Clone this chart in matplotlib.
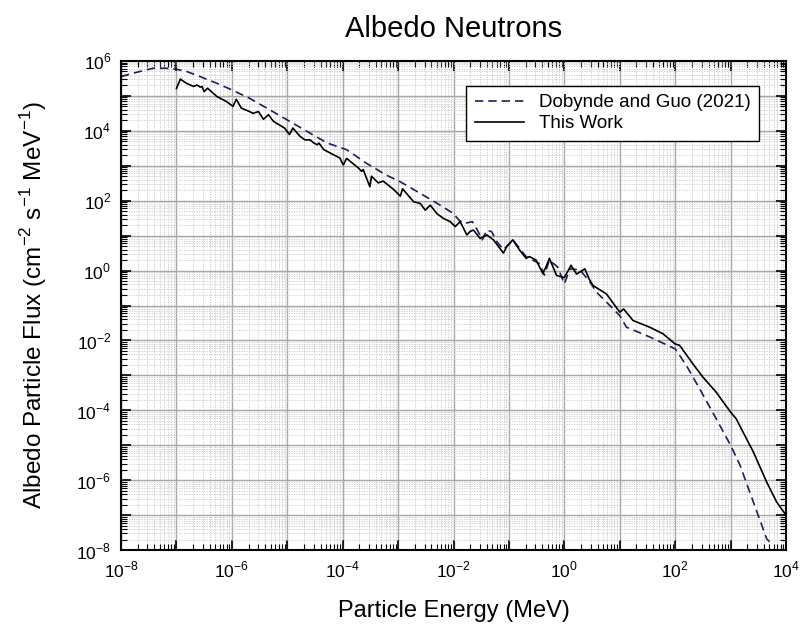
import numpy as np
import matplotlib.pyplot as plt
from matplotlib.ticker import LogLocator, FuncFormatter, NullFormatter

plt.rcParams["font.family"] = ["Liberation Sans", "DejaVu Sans"]
plt.rcParams["mathtext.fontset"] = "custom"
plt.rcParams["mathtext.rm"] = "Liberation Sans"

# log10(E / MeV) and log10(flux)
dob_logE = [-8.0, -7.78, -7.42, -7.18, -7.0, -6.82, -6.57, -6.27, -6.0, -5.68,
            -5.37, -5.0, -4.64, -4.28, -3.93, -3.57, -3.21, -2.96, -2.6, -2.24,
            -2.0, -1.9, -1.8, -1.66, -1.57, -1.48, -1.4, -1.31, -1.22, -1.1,
            -1.01, -0.93, -0.69, -0.45, -0.36, -0.27, -0.12, 0.0, 0.1, 0.28,
            0.45, 0.58, 0.76, 1.0, 1.12, 1.54, 2.0, 2.2, 2.44, 2.74, 3.0, 3.17,
            3.41, 3.65, 3.7]
dob_logF = [5.55, 5.65, 5.79, 5.79, 5.76, 5.7, 5.55, 5.36, 5.17, 4.93,
            4.65, 4.31, 3.98, 3.65, 3.46, 3.07, 2.73, 2.54, 2.21, 1.87,
            1.63, 1.44, 1.35, 1.4, 1.16, 0.88, 1.16, 1.11, 0.83, 0.6,
            0.73, 0.88, 0.4, 0.2, -0.13, 0.3, 0.1, -0.38, 0.05, 0.02,
            -0.3, -0.62, -0.9, -1.29, -1.62, -1.9, -2.24, -2.71, -3.38, -4.24, -5.0, -5.57,
            -6.62, -7.67, -7.76]

work_logE = [-7.0, -6.93, -6.82, -6.69, -6.63, -6.57, -6.54, -6.5, -6.44, -6.27,
             -6.1, -5.98, -5.92, -5.83, -5.68, -5.62, -5.52, -5.43, -5.34, -5.25,
             -5.05, -4.96, -4.9, -4.77, -4.68, -4.59, -4.52, -4.46, -4.43, -4.34,
             -4.16, -4.05, -3.99, -3.93, -3.72, -3.66, -3.63, -3.51, -3.48, -3.36,
             -3.27, -3.08, -2.96, -2.92, -2.72, -2.6, -2.51, -2.42, -2.3, -2.18,
             -2.06, -1.97, -1.88, -1.76, -1.7, -1.64, -1.52, -1.4, -1.28, -1.1,
             -1.04, -0.93, -0.81, -0.69, -0.63, -0.51, -0.39, -0.33, -0.27, -0.14,
             0.0, 0.12, 0.22, 0.37, 0.45, 0.52, 0.76, 1.0, 1.07, 1.24, 1.54, 1.78,
             2.0, 2.08, 2.32, 2.5, 2.74, 3.0, 3.1, 3.41, 3.65, 3.83, 4.0]
work_logF = [5.21, 5.48, 5.36, 5.27, 5.31, 5.25, 5.27, 5.12, 5.22, 4.98,
             4.84, 4.7, 4.9, 4.65, 4.55, 4.5, 4.55, 4.33, 4.46, 4.27,
             4.08, 3.89, 4.08, 3.84, 3.74, 3.74, 3.65, 3.6, 3.65, 3.46,
             3.31, 3.22, 3.02, 3.21, 2.94, 2.84, 2.89, 2.4, 2.7, 2.51,
             2.56, 2.32, 2.13, 2.34, 1.97, 1.92, 1.73, 1.87, 1.63, 1.49,
             1.4, 1.26, 1.4, 1.02, 1.12, 1.16, 0.92, 1.02, 0.88, 0.5,
             0.69, 0.88, 0.59, 0.35, 0.4, 0.3, -0.08, 0.11, 0.35, -0.14,
             -0.2, 0.15, -0.1, 0.05, -0.25, -0.43, -0.67, -1.19, -1.1, -1.43, -1.62, -1.81,
             -2.1, -2.14, -2.67, -3.05, -3.48, -4.05, -4.24, -5.19, -6.05, -6.62, -7.0]

fig = plt.figure(figsize=(8.07, 6.28), dpi=100)
ax = fig.add_axes([0.150, 0.124, 0.824, 0.779])

ax.plot(10.0 ** np.array(dob_logE), 10.0 ** np.array(dob_logF), color="#1e1e5a",
        linestyle=(0, (5, 3)), linewidth=1.2, label="Dobynde and Guo (2021)")
ax.plot(10.0 ** np.array(work_logE), 10.0 ** np.array(work_logF), color="black",
        linewidth=1.2, label="This Work")

ax.set_xscale("log")
ax.set_yscale("log")
ax.set_xlim(1e-8, 1e4)
ax.set_ylim(1e-8, 1e6)

even_only = FuncFormatter(
    lambda v, pos: r"$10^{%d}$" % round(np.log10(v)) if round(np.log10(v)) % 2 == 0 else "")
for axis in (ax.xaxis, ax.yaxis):
    axis.set_major_locator(LogLocator(base=10, numticks=30))
    axis.set_minor_locator(LogLocator(base=10, subs=np.arange(2, 10), numticks=30))
    axis.set_major_formatter(even_only)
    axis.set_minor_formatter(NullFormatter())

ax.grid(True, which="major", color="#a8a8a8", linewidth=1.0)
ax.grid(True, which="minor", color="#c8c8c8", linewidth=0.6, linestyle=(0, (1.5, 1.5)))
ax.set_axisbelow(True)

ax.tick_params(which="both", direction="in", top=True, right=True, labelsize=12.5, pad=7)
ax.tick_params(which="major", length=7, width=1.2)
ax.tick_params(which="minor", length=4, width=0.8)
for spine in ax.spines.values():
    spine.set_linewidth(1.5)

ax.set_title("Albedo Neutrons", fontsize=21, pad=17)
ax.set_xlabel("Particle Energy (MeV)", fontsize=17, labelpad=14)
ax.set_ylabel(r"Albedo Particle Flux (cm$^{-2}$ s$^{-1}$ MeV$^{-1}$)", fontsize=17.5, labelpad=20)

leg = ax.legend(loc="upper right", bbox_to_anchor=(0.959, 0.949), borderaxespad=0,
                fontsize=13.5, fancybox=False, framealpha=1, edgecolor="black",
                handlelength=2.6, borderpad=0.45, labelspacing=0.2)
leg.get_frame().set_linewidth(1.0)

fig.savefig("out.png", dpi=100)
